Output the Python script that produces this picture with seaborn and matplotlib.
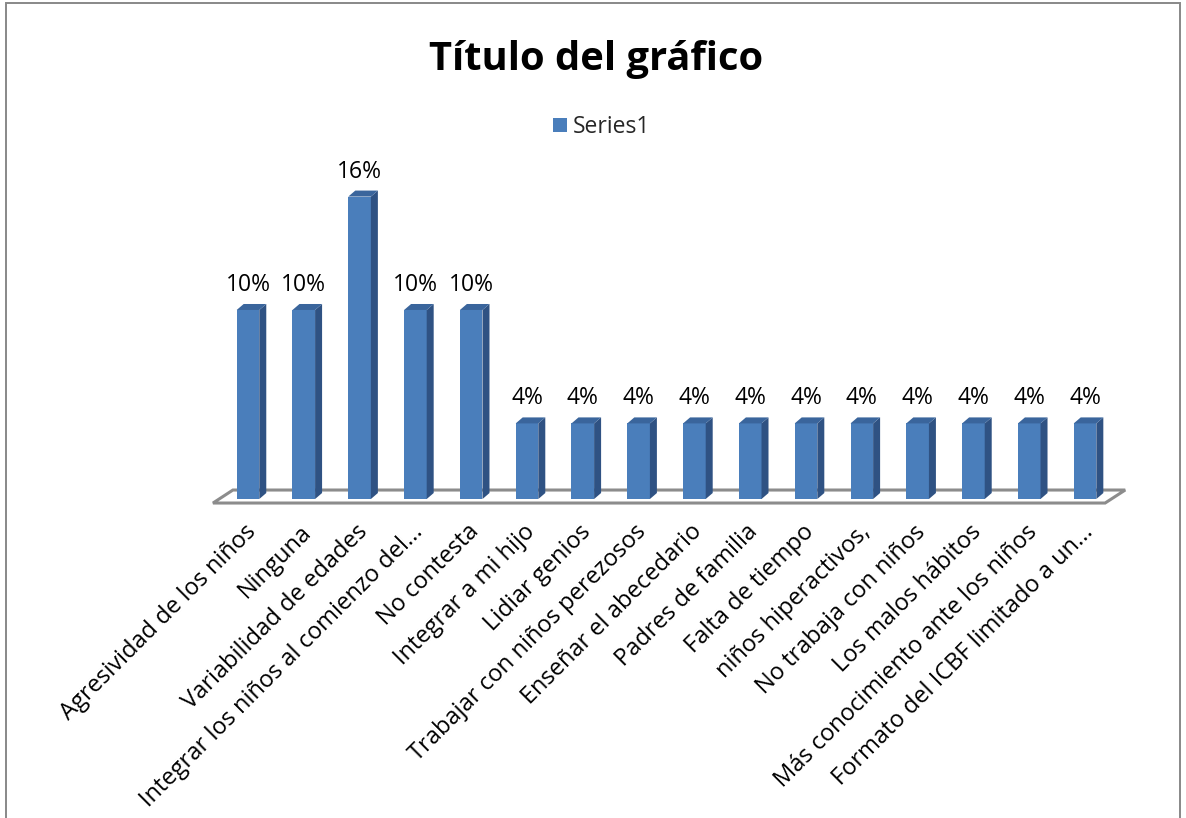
import matplotlib
matplotlib.use("Agg")
import matplotlib.pyplot as plt
import seaborn as sns
import pandas as pd
from matplotlib.patches import Polygon, Rectangle

sns.set_theme(style="white")
plt.rcParams['font.family'] = ['Open Sans', 'DejaVu Sans']

# data
categories = [
    "Agresividad de los niños",
    "Ninguna",
    "Variabilidad de edades",
    "Integrar los niños al comienzo del...",
    "No contesta",
    "Integrar a mi hijo",
    "Lidiar genios",
    "Trabajar con niños perezosos",
    "Enseñar el abecedario",
    "Padres de familia",
    "Falta de tiempo",
    "niños hiperactivos,",
    "No trabaja con niños",
    "Los malos hábitos",
    "Más conocimiento ante los niños",
    "Formato del ICBF limitado a un...",
]
values = [0.10, 0.10, 0.16, 0.10, 0.10, 0.04, 0.04, 0.04,
          0.04, 0.04, 0.04, 0.04, 0.04, 0.04, 0.04, 0.04]
series_name = "Series1"

df = pd.DataFrame({"categoria": categories, "valor": values})

W, H = 1186, 818
fig = plt.figure(figsize=(W / 100, H / 100), dpi=100)
ax = fig.add_axes([0.1785, 0.3807, 0.774, 0.4021])

front = "#4A7EBB"
side = "#2F5283"
top = "#3A659C"

sns.barplot(data=df, x="categoria", y="valor", order=categories, color=front,
            width=0.405, saturation=1, ax=ax, label=series_name)
ax.set_xlim(-0.65, 15.8)
ax.set_ylim(-0.004, 0.17)

# pixel sizes in data units, for the fake 3d depth
px_x = 1 / 55.8
px_y = 1 / 1890
dx, dy = 7 * px_x, 6 * px_y

# floor (gray outline)
n = len(categories)
floor = Polygon([(-0.627, -4 * px_y), (n - 1 + 0.36, -4 * px_y),
                 (n - 1 + 0.72, 9 * px_y), (-0.27, 9 * px_y)],
                closed=True, fill=True, facecolor="white", edgecolor="#8C8C8C",
                lw=2.2, zorder=0.5)
ax.add_patch(floor)

for p in ax.patches[:]:
    if p is floor:
        continue
    x0 = p.get_x()
    w = p.get_width()
    h = p.get_height()
    p.set_zorder(2)
    p.set_edgecolor("none")
    # side face
    ax.add_patch(Polygon([(x0 + w, 0), (x0 + w + dx, dy), (x0 + w + dx, h + dy), (x0 + w, h)],
                         closed=True, facecolor=side, edgecolor="none", zorder=2))
    # top face
    ax.add_patch(Polygon([(x0, h), (x0 + w, h), (x0 + w + dx, h + dy), (x0 + dx, h + dy)],
                         closed=True, facecolor=top, edgecolor="none", zorder=2))

# data labels
for i, v in enumerate(values):
    ax.annotate(f"{v * 100:.0f}%", xy=(i, v), xytext=(0, 19), textcoords="offset pixels",
                ha="center", va="baseline", fontsize=16.5, color="black")

# category labels
ax.set_xticks([])
for i, c in enumerate(categories):
    ax.annotate(c, xy=(i, 0), xytext=(-4, -21), textcoords="offset pixels",
                rotation=45, ha="right", va="top", rotation_mode="anchor",
                fontsize=17, color="black", annotation_clip=False)

ax.set_yticks([])
ax.set_xlabel("")
ax.set_ylabel("")
for s in ax.spines.values():
    s.set_visible(False)
ax.patch.set_alpha(0)

fig.text(596 / W, 1 - 70 / H, "Título del gráfico", ha="center", va="baseline",
         fontsize=28.7, fontweight="bold", color="black")

ax.legend(loc="center left", bbox_to_anchor=(553 / W, 1 - 127 / H), bbox_transform=fig.transFigure,
          frameon=False, fontsize=16.5, handlelength=0.62, handleheight=0.62, handletextpad=0.25,
          borderpad=0, borderaxespad=0)

# chart area border
fig.add_artist(Rectangle((6 / W, -0.05), 1174 / W, 1.05 - 3 / H, transform=fig.transFigure,
                         fill=False, edgecolor="#888888", lw=1.4))

fig.savefig("out.png", dpi=100)
